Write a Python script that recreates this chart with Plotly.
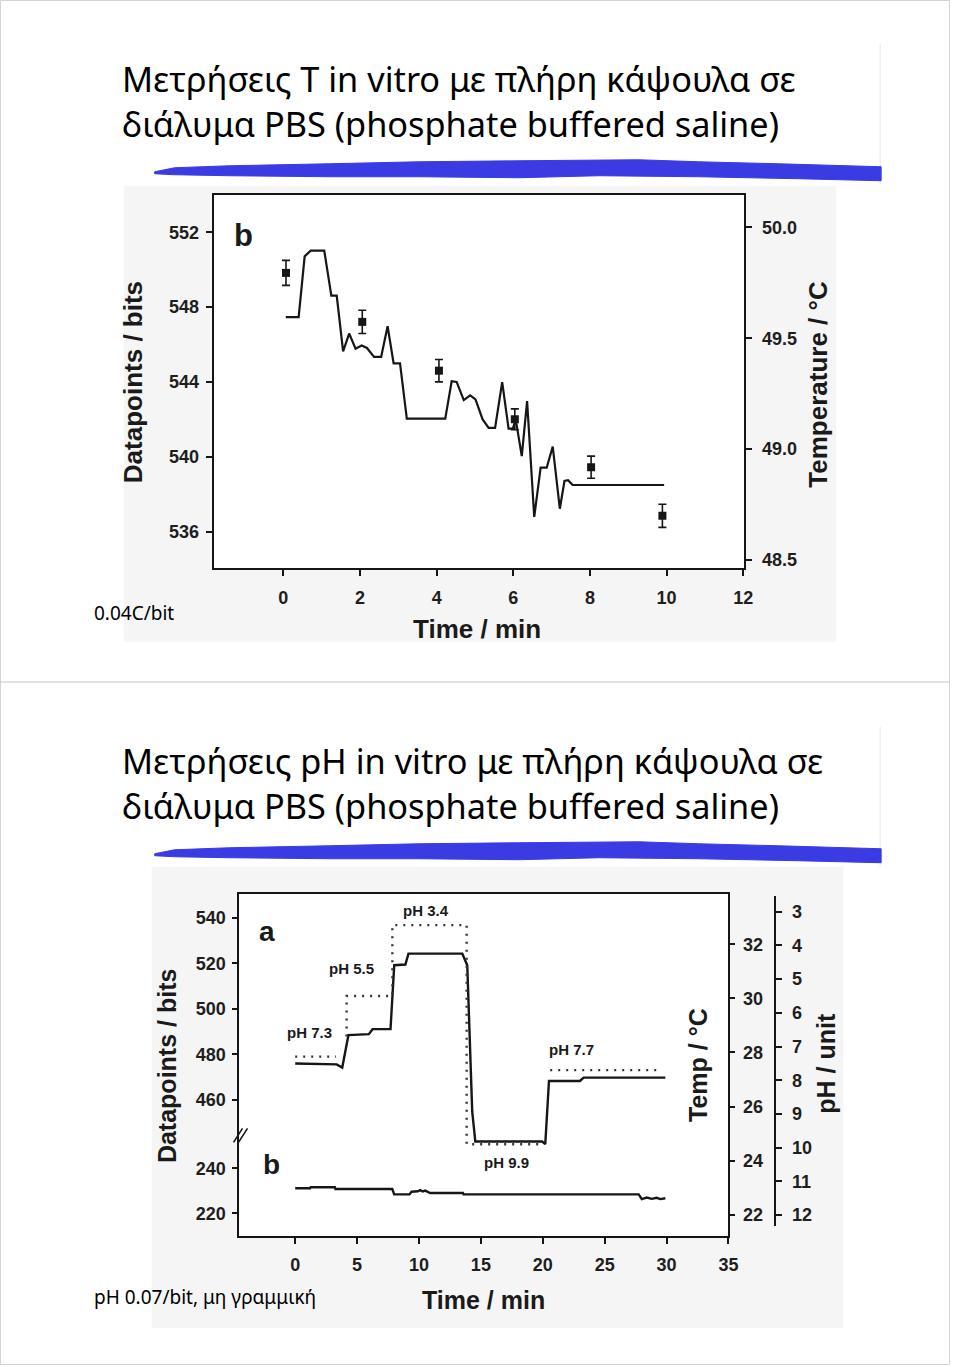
import plotly.graph_objects as go

W, H = 960, 1367
SXW = 952  # horizontal calibration: the captured page comes out ~0.8% narrower than designed
def X(px): return min(px / SXW, 1.0)
def Y(py): return 1 - py / H

# ---------------- top chart: temperature test ----------------
temp_time = [0.065, 0.40, 0.557, 0.715, 1.068, 1.253, 1.393, 1.56, 1.718, 1.885, 2.043, 2.182, 2.368,
             2.553, 2.721, 2.878, 3.045, 3.222, 4.225, 4.392, 4.522, 4.708, 4.875, 5.014, 5.2, 5.357,
             5.525, 5.71, 5.877, 5.989, 6.063, 6.221, 6.36, 6.546, 6.713, 6.871, 7.029, 7.214, 7.335,
             7.428, 7.549, 9.935]
temp_deg = [49.595, 49.595, 49.869, 49.895, 49.895, 49.692, 49.692, 49.441, 49.521, 49.453, 49.467, 49.456,
            49.416, 49.416, 49.554, 49.386, 49.386, 49.137, 49.137, 49.306, 49.303, 49.221, 49.242, 49.224,
            49.134, 49.096, 49.096, 49.302, 49.092, 49.092, 49.134, 48.968, 49.216, 48.694, 48.916, 48.916,
            49.011, 48.731, 48.856, 48.860, 48.838, 48.838]
pts_time = [0.07, 2.06, 4.06, 6.04, 8.03, 9.89]
pts_bits = [549.83, 547.21, 544.6, 542.0, 539.44, 536.84]
pts_err = [0.67, 0.62, 0.60, 0.56, 0.59, 0.62]
top_xticks = [0, 2, 4, 6, 8, 10, 12]
top_bits_ticks = [536, 540, 544, 548, 552]
top_temp_ticks = [48.5, 49.0, 49.5, 50.0]

# ---------------- bottom chart: pH test ----------------
a_time = [0, 3.35, 3.8, 4.3, 5.95, 6.25, 7.7, 8.0, 8.9, 9.15, 13.5, 13.9, 14.3, 14.55, 19.95, 20.2,
          20.5, 23.0, 23.3, 29.9]
a_bits = [476.0, 475.6, 474.2, 488.5, 488.9, 491.1, 491.1, 519.2, 519.5, 524.3, 524.3, 519.2, 454.8,
          441.7, 441.7, 440.5, 468.3, 468.3, 469.8, 469.8]
b_time = [0, 1.2, 1.25, 3.2, 3.25, 7.84, 8.0, 9.23, 9.4, 9.9, 10.1, 10.3, 10.5, 10.9, 13.55, 13.6,
          27.75, 28.0, 28.4, 28.8, 29.2, 29.5, 29.9]
b_bits = [231.1, 231.1, 231.6, 231.6, 230.8, 230.8, 228.4, 228.4, 229.6, 229.8, 230.3, 229.7, 230.1,
          229.0, 229.0, 228.4, 228.4, 226.3, 227.0, 226.4, 226.9, 226.3, 226.7]
ph_time = [0, 3.3, None, 4.15, 4.15, 7.85, 7.85, 13.85, 13.85, 19.9, None, 20.6, 29.6]
ph_val = [7.3, 7.3, None, 6.7, 5.5, 5.5, 3.4, 3.4, 9.9, 9.9, None, 7.7, 7.7]
ph_labels = ["pH 7.3", "pH 5.5", "pH 3.4", "pH 9.9", "pH 7.7"]
bot_xticks = [0, 5, 10, 15, 20, 25, 30, 35]
bits_hi_ticks = [460, 480, 500, 520, 540]
bits_lo_ticks = [220, 240]
bot_temp_ticks = [22, 24, 26, 28, 30, 32]
ph_ticks = [3, 4, 5, 6, 7, 8, 9, 10, 11, 12]

INK = "#161616"
AF = "Liberation Sans"
tickfont = dict(family=AF, size=18, color="#1e1e1e", weight="bold")

fig = go.Figure()
fig.add_trace(go.Scatter(x=temp_time, y=temp_deg, xaxis="x", yaxis="y2", mode="lines",
                         line=dict(color=INK, width=2.2), hoverinfo="skip"))
fig.add_trace(go.Scatter(x=pts_time, y=pts_bits, xaxis="x", yaxis="y", mode="markers",
                         marker=dict(symbol="square", size=8, color=INK),
                         error_y=dict(type="data", array=pts_err, color=INK, thickness=1.6, width=4)))
fig.add_trace(go.Scatter(x=a_time, y=a_bits, xaxis="x3", yaxis="y3", mode="lines",
                         line=dict(color=INK, width=2.4)))
fig.add_trace(go.Scatter(x=b_time, y=b_bits, xaxis="x3", yaxis="y4", mode="lines",
                         line=dict(color=INK, width=2.4)))
fig.add_trace(go.Scatter(x=ph_time, y=ph_val, xaxis="x3", yaxis="y7", mode="lines",
                         line=dict(color="#333333", width=2.4, dash="2px,6px")))
fig.add_trace(go.Scatter(x=[], y=[], xaxis="x3", yaxis="y5"))
fig.add_trace(go.Scatter(x=[], y=[], xaxis="x3", yaxis="y6"))

common = dict(showgrid=False, zeroline=False, ticks="outside", ticklen=6, tickwidth=1.5,
              tickcolor=INK, linecolor=INK, tickfont=tickfont)

fig.update_layout(
    width=W, height=H, margin=dict(l=0, r=0, t=0, b=0),
    paper_bgcolor="white", plot_bgcolor="rgba(0,0,0,0)", showlegend=False,
    xaxis=dict(domain=[X(214), X(746)], range=[-1.82, 12.03], anchor="y", tickvals=top_xticks,
               showline=True, linewidth=2, mirror=True, ticklabelstandoff=6, **common),
    yaxis=dict(domain=[Y(569), Y(195)], range=[534.04, 554.01], anchor="x", tickvals=top_bits_ticks,
               showline=True, linewidth=2, ticklabelstandoff=3, **common),
    yaxis2=dict(overlaying="y", side="right", anchor="x", range=[48.463, 50.147],
                tickvals=top_temp_ticks, tickformat=".1f", showline=True, linewidth=2,
                ticklabelstandoff=6, **common),
    xaxis3=dict(domain=[X(240), X(730)], range=[-4.5, 35.0], anchor="y5", tickvals=bot_xticks,
                showline=True, linewidth=2, mirror=True, ticklabelstandoff=5, **common),
    yaxis5=dict(domain=[Y(1238), Y(895)], range=[0, 1], anchor="x3", showline=True, linewidth=2,
                mirror=True, showticklabels=False, showgrid=False, zeroline=False, ticks="",
                linecolor=INK),
    yaxis3=dict(domain=[Y(1150), Y(895)], range=[438.7, 550.67], anchor="x3", tickvals=bits_hi_ticks,
                showline=False, ticklabelstandoff=3, **common),
    yaxis4=dict(domain=[Y(1238), Y(1150)], range=[209.8, 248.9], anchor="x3", tickvals=bits_lo_ticks,
                showline=False, ticklabelstandoff=3, **common),
    yaxis6=dict(overlaying="y5", side="right", anchor="x3", range=[21.21, 33.87],
                tickvals=bot_temp_ticks, showline=False, ticklabelstandoff=4, **common),
    yaxis7=dict(domain=[Y(1228), Y(897)], range=[12.33, 2.526], anchor="free", position=X(777),
                side="right", tickvals=ph_ticks, showline=True, linewidth=2,
                ticklabelstandoff=6, **common),
)

shapes = []
# light scanned-image backgrounds and white plot areas
shapes.append(dict(type="rect", xref="paper", yref="paper", x0=X(124), x1=X(838), y0=Y(643), y1=Y(186),
                   fillcolor="#f5f5f5", line=dict(width=0), layer="below"))
shapes.append(dict(type="rect", xref="paper", yref="paper", x0=X(152), x1=X(845), y0=Y(1330), y1=Y(868),
                   fillcolor="#f5f5f5", line=dict(width=0), layer="below"))
shapes.append(dict(type="rect", xref="paper", yref="paper", x0=X(214), x1=X(746), y0=Y(569), y1=Y(195),
                   fillcolor="white", line=dict(width=0), layer="below"))
shapes.append(dict(type="rect", xref="paper", yref="paper", x0=X(240), x1=X(730), y0=Y(1238), y1=Y(895),
                   fillcolor="white", line=dict(width=0), layer="below"))
# page border, slide separator and faint slide edges
shapes.append(dict(type="rect", xref="paper", yref="paper", x0=X(0.5), x1=X(959.5) - 0.0005, y0=Y(1366.5),
                   y1=Y(0.5), line=dict(color="#d4d4d4", width=1)))
shapes.append(dict(type="line", xref="paper", yref="paper", x0=0, x1=1, y0=Y(683), y1=Y(683),
                   line=dict(color="#c8c8c8", width=1.2)))
for y0, y1 in [(45, 185), (728, 868)]:
    shapes.append(dict(type="line", xref="paper", yref="paper", x0=X(882), x1=X(882), y0=Y(y1), y1=Y(y0),
                       line=dict(color="#e6e6e6", width=1)))
# blue brush strokes
def brush(dy):
    pts = [(155, 172), (175, 168), (230, 166), (330, 164), (420, 162), (520, 161), (640, 160), (700, 162),
           (780, 164), (883, 167), (883, 181), (800, 179), (700, 177), (600, 176), (520, 178), (420, 177),
           (330, 177), (230, 176), (175, 175), (155, 174)]
    d = "M " + " L ".join(f"{X(x):.5f},{Y(y + dy):.5f}" for x, y in pts) + " Z"
    return dict(type="path", xref="paper", yref="paper", path=d, fillcolor="#3b3be4",
                line=dict(color="#3b3be4", width=1))
shapes.append(brush(0))
shapes.append(brush(683))
# axis break marks
for off in (0, 5):
    shapes.append(dict(type="line", xref="paper", yref="paper", x0=X(234 + off), x1=X(243 + off),
                       y0=Y(1144), y1=Y(1130), line=dict(color=INK, width=1.6)))
fig.update_layout(shapes=shapes)

ann = []
def txt(x, y, s, size, xanchor="center", family=AF, bold=True, angle=0, color="#1a1a1a"):
    ann.append(dict(xref="paper", yref="paper", x=X(x), y=Y(y), text=s, showarrow=False,
                    xanchor=xanchor, yanchor="middle", textangle=angle, align="left",
                    font=dict(family=family, size=size, color=color, weight="bold" if bold else "normal")))

TF = "Noto Sans"
txt(120, 101, "Μετρήσεις T in vitro με πλήρη κάψουλα σε<br>διάλυμα PBS (phosphate buffered saline)",
    34.3, "left", TF, False, color="black")
txt(120, 784, "Μετρήσεις pH in vitro με πλήρη κάψουλα σε<br>διάλυμα PBS (phosphate buffered saline)",
    34.3, "left", TF, False, color="black")
txt(92, 614, "0.04C/bit", 19, "left", TF, False, color="black")
txt(92, 1299, "pH 0.07/bit, μη γραμμική", 19, "left", TF, False, color="black")

# top chart labels
txt(134, 383, "Datapoints / bits", 26, angle=-90)
txt(820, 385, "Temperature / °C", 26, angle=-90)
txt(478, 630, "Time / min", 26)
txt(244, 236, "b", 31)
# bottom chart labels
txt(168, 1068, "Datapoints / bits", 25, angle=-90)
txt(700, 1067, "Temp / °C", 25, angle=-90)
txt(828, 1065, "pH / unit", 25, angle=-90)
txt(485, 1302, "Time / min", 25)
txt(268, 933, "a", 28)
txt(272, 1166, "b", 28)
for s, (x, y) in zip(ph_labels, [(310, 1034), (352, 970), (427, 912), (508, 1164), (573, 1051)]):
    txt(x, y, s, 15)
fig.update_layout(annotations=ann)

fig.write_html("out.html", config={"displayModeBar": False},
               post_script="document.body.style.margin='0';document.body.style.overflow='hidden';")
